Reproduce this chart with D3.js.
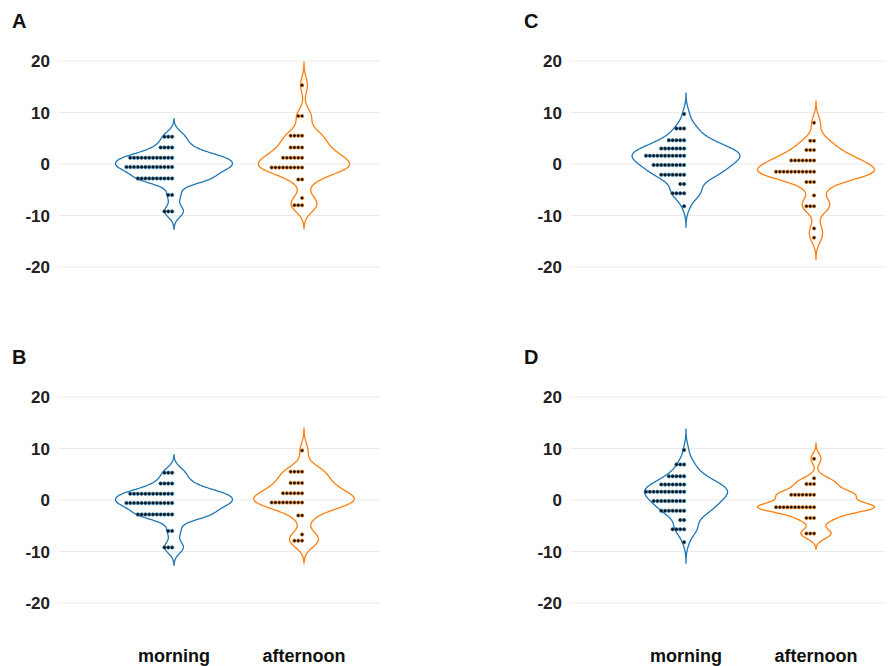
<!DOCTYPE html>
<html>
<head>
<meta charset="utf-8">
<script src="https://cdn.jsdelivr.net/npm/d3@7"></script>
<style>
  body { margin: 0; background: #fff; }
  svg { display: block; }
</style>
</head>
<body>
<script>
// categories and y ticks
const groups = ["morning", "afternoon"];
const yTicks = [20, 10, 0, -10, -20];
const colors = ["#1f77b4", "#ff7f0e"];

// dotplot bins: bin centre value and number of dots in the bin
const aMorningBins = [5.3, 3.2, 1.2, -0.6, -2.8, -6.0, -9.2];
const aMorningCounts = [3, 4, 12, 13, 10, 2, 3];
const aAfternoonBins = [15.3, 9.3, 5.5, 3.2, 1.2, -0.7, -3.0, -6.6, -8.0];
const aAfternoonCounts = [1, 2, 4, 4, 6, 9, 2, 1, 3];

const bMorningBins = [5.3, 3.2, 1.2, -0.6, -2.8, -6.0, -9.2];
const bMorningCounts = [3, 4, 12, 13, 10, 2, 3];
const bAfternoonBins = [9.6, 5.5, 3.3, 1.3, -0.5, -3.0, -6.7, -7.9];
const bAfternoonCounts = [1, 4, 4, 6, 9, 2, 1, 3];

const cMorningBins = [9.7, 6.9, 4.6, 3.0, 1.6, -0.2, -2.1, -3.9, -5.7, -8.2];
const cMorningCounts = [1, 3, 5, 7, 11, 9, 7, 2, 4, 1];
const cAfternoonBins = [8.0, 4.5, 2.7, 0.7, -1.5, -3.5, -6.1, -8.2, -12.5, -14.3];
const cAfternoonCounts = [1, 2, 3, 7, 11, 3, 1, 3, 1, 1];

const dMorningBins = [9.7, 6.9, 4.6, 3.0, 1.6, -0.2, -2.1, -3.9, -5.7, -8.2];
const dMorningCounts = [1, 3, 5, 7, 11, 9, 7, 2, 4, 1];
const dAfternoonBins = [8.0, 4.2, 3.1, 1.0, -1.4, -3.5, -6.5];
const dAfternoonCounts = [1, 1, 3, 7, 11, 3, 3];

// kernel bandwidths (morning, afternoon), judged from the violin outlines
const aBandwidths = [1.15, 1.5];
const bBandwidths = [1.15, 1.45];
const cBandwidths = [1.35, 1.4];
const dBandwidths = [1.35, 1.0];

const panels = [
  { label: "A", col: 0, row: 0, bins: [aMorningBins, aAfternoonBins], counts: [aMorningCounts, aAfternoonCounts], bw: aBandwidths },
  { label: "B", col: 0, row: 1, bins: [bMorningBins, bAfternoonBins], counts: [bMorningCounts, bAfternoonCounts], bw: bBandwidths },
  { label: "C", col: 1, row: 0, bins: [cMorningBins, cAfternoonBins], counts: [cMorningCounts, cAfternoonCounts], bw: cBandwidths },
  { label: "D", col: 1, row: 1, bins: [dMorningBins, dAfternoonBins], counts: [dMorningCounts, dAfternoonCounts], bw: dBandwidths }
];

const W = 888, H = 666;
const colX = [0, 512], rowY = [0, 336];
const font = "'Liberation Sans', Arial, Helvetica, sans-serif";

const svg = d3.select("body").append("svg")
  .attr("width", W)
  .attr("height", H);

// expand bins back into a flat list of values
function expand(bins, counts) {
  let out = [];
  bins.forEach((v, i) => { for (let k = 0; k < counts[i]; k++) out.push(v); });
  return out;
}

// gaussian kde, running 3 bandwidths past the data like ggplot's untrimmed violin
function kde(vals, bw) {
  const lo = d3.min(vals) - 3 * bw, hi = d3.max(vals) + 3 * bw;
  const n = 200;
  const pts = [];
  for (let i = 0; i <= n; i++) {
    const t = lo + (hi - lo) * i / n;
    const d = d3.mean(vals, v => Math.exp(-0.5 * ((t - v) / bw) ** 2)) / (bw * Math.sqrt(2 * Math.PI));
    pts.push([t, d]);
  }
  return pts;
}

panels.forEach(p => {
  const ox = colX[p.col], oy = rowY[p.row];
  const g = svg.append("g");

  const y = d3.scaleLinear().domain([-20, 20]).range([oy + 267, oy + 61]);
  const x = d3.scalePoint().domain(groups).range([ox + 174, ox + 304]);
  const gridRight = p.col === 0 ? ox + 380 : ox + 373;

  // panel letter
  g.append("text")
    .attr("x", ox + 12).attr("y", oy + 28)
    .attr("font-family", font).attr("font-weight", "bold").attr("font-size", 20)
    .attr("fill", "#111")
    .text(p.label);

  // horizontal gridlines + tick labels
  g.selectAll(".grid").data(yTicks).enter().append("line")
    .attr("x1", ox + 58).attr("x2", gridRight)
    .attr("y1", d => y(d)).attr("y2", d => y(d))
    .attr("stroke", "#ebebeb").attr("stroke-width", 1);

  g.selectAll(".tick").data(yTicks).enter().append("text")
    .attr("x", ox + 50).attr("y", d => y(d))
    .attr("dy", "0.36em")
    .attr("text-anchor", "end")
    .attr("font-family", font).attr("font-weight", "bold").attr("font-size", 17)
    .attr("fill", "#222")
    .text(d => d);

  // violins, scaled by area within the panel
  const vals = p.bins.map((b, i) => expand(b, p.counts[i]));
  const dens = vals.map((v, i) => kde(v, p.bw[i]));
  const maxD = d3.max(dens, d => d3.max(d, e => e[1]));
  const w = d3.scaleLinear().domain([0, maxD]).range([0, 0.45 * x.step()]);

  groups.forEach((gr, i) => {
    const cx = x(gr);
    const area = d3.area()
      .x0(d => cx - w(d[1]))
      .x1(d => cx + w(d[1]))
      .y(d => y(d[0]))
      .curve(d3.curveBasis);
    g.append("path")
      .datum(dens[i])
      .attr("d", area)
      .attr("fill", "none")
      .attr("stroke", colors[i])
      .attr("stroke-width", 1.3);

    // dots stacked leftwards from the centre line
    const r = 1.75, gap = 3.8;
    const dots = [];
    p.bins[i].forEach((v, j) => {
      for (let k = 0; k < p.counts[i][j]; k++) dots.push({ v: v, k: k });
    });
    g.selectAll(".dot" + i).data(dots).enter().append("circle")
      .attr("cx", d => cx - r - 0.2 - d.k * gap)
      .attr("cy", d => y(d.v))
      .attr("r", r)
      .attr("fill", "#141414")
      .attr("stroke", colors[i])
      .attr("stroke-width", 0.6);
  });

  // category labels only under the bottom row
  if (p.row === 1) {
    g.selectAll(".cat").data(groups).enter().append("text")
      .attr("x", d => x(d)).attr("y", 662)
      .attr("text-anchor", "middle")
      .attr("font-family", font).attr("font-weight", "bold").attr("font-size", 18)
      .attr("fill", "#111")
      .text(d => d);
  }
});
</script>
</body>
</html>
